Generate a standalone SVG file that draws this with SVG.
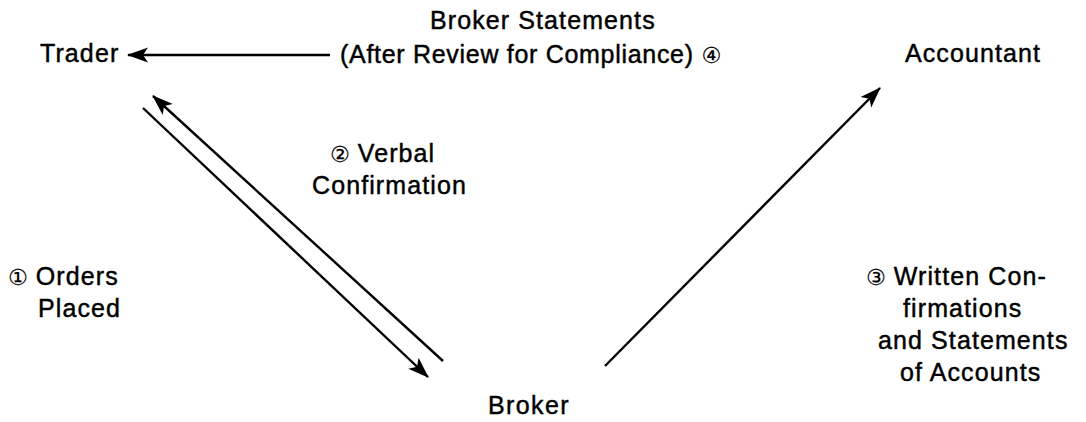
<svg xmlns="http://www.w3.org/2000/svg" width="1086" height="422" viewBox="0 0 1086 422">
<style>
text{font-family:"Liberation Sans",Arial,sans-serif;font-size:25px;letter-spacing:1.1px;fill:#000;stroke:#000;stroke-width:0.45}
.c{font-family:"DejaVu Sans","Noto Sans CJK JP",sans-serif;font-size:22px;letter-spacing:0;stroke-width:0.2}
.ln{stroke:#000;stroke-width:2.4;fill:none}
</style>
<defs>
<marker id="ah" markerUnits="userSpaceOnUse" markerWidth="24" markerHeight="18" refX="20" refY="9" orient="auto">
<path d="M0,1.5 L21,9 L0,16.5 L5,9 Z" fill="#000"/>
</marker>
</defs>
<rect width="1086" height="422" fill="#fff"/>
<g id="trader"><text x="40" y="62">Trader</text></g>
<g id="accountant"><text x="905" y="62">Accountant</text></g>
<g id="broker"><text x="488" y="414" style="letter-spacing:1.4px">Broker</text></g>
<g id="connectors">
<line class="ln" x1="330" y1="55" x2="128" y2="55" marker-end="url(#ah)"/>
<line class="ln" x1="143" y1="108" x2="428" y2="377" marker-end="url(#ah)"/>
<line class="ln" x1="443" y1="361" x2="153" y2="96" marker-end="url(#ah)"/>
<line class="ln" x1="605" y1="366" x2="880" y2="88" marker-end="url(#ah)"/>
</g>
<g id="labels">
<text x="430" y="29">Broker Statements</text>
<text x="340" y="63" style="letter-spacing:0.7px">(After Review for Compliance) <tspan class="c">④</tspan></text>
<text x="330" y="162"><tspan class="c">②</tspan> Verbal</text>
<text x="312" y="194">Confirmation</text>
<text x="8" y="285"><tspan class="c">①</tspan> Orders</text>
<text x="38" y="317">Placed</text>
<text x="866" y="285"><tspan class="c">③</tspan> Written Con-</text>
<text x="903" y="317">firmations</text>
<text x="878" y="349">and Statements</text>
<text x="900" y="381">of Accounts</text>
</g>
</svg>
